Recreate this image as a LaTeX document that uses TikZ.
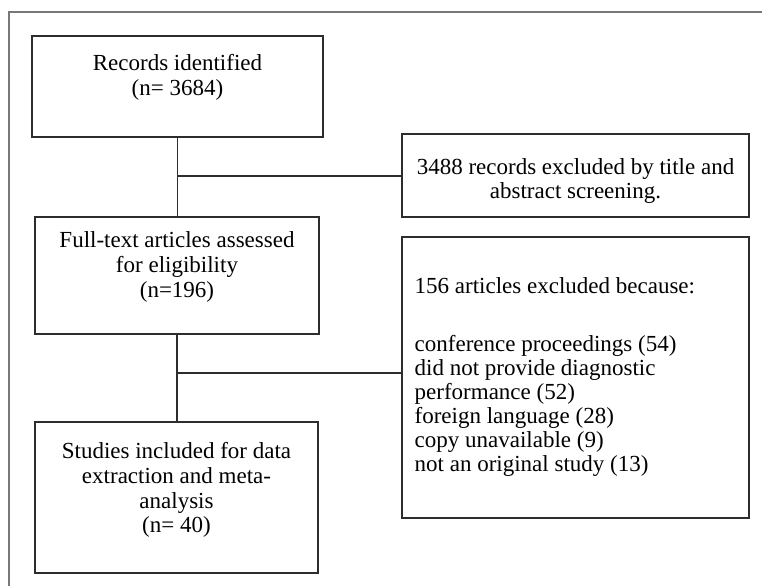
\documentclass[tikz,border=0pt]{standalone}
\usepackage{fontspec}
\setmainfont{Liberation Serif}
\usepackage{tikz}
\usetikzlibrary{positioning,calc}
\definecolor{boxline}{RGB}{45,45,45}
\definecolor{frameline}{RGB}{120,120,120}

\begin{document}
\begin{tikzpicture}[x=0.6pt,y=-0.6pt,
    box/.style={draw=boxline, line width=0.8pt, rectangle, inner sep=0pt},
    boxtext/.style={inner sep=0pt, align=center, font=\fontsize{13.8}{14.8}\selectfont},
    link/.style={draw=boxline, line width=0.8pt}]
  \useasboundingbox (0,0) rectangle (762,586);
  % frame
  \draw[frameline, line width=0.8pt] (9,586) -- (9,12) -- (762,12);

  % left column
  \node[box, minimum width=174.6pt, minimum height=60.6pt] (rec) at (177.5,86.5) {};
  \node[boxtext, below=11.4pt of rec.north] (rectxt) {Records identified\\(n= 3684)};

  \node[box, minimum width=170.4pt, minimum height=70.2pt] (full) at (177,275.5) {};
  \node[boxtext, below=9.2pt of full.north] (fulltxt) {Full-text articles assessed\\for eligibility\\(n=196)};

  \node[box, minimum width=169.8pt, minimum height=90.6pt] (incl) at (176.5,497.5) {};
  \node[boxtext, below=12.6pt of incl.north] (incltxt) {Studies included for data\\extraction and meta-\\analysis\\(n= 40)};

  % right column
  \node[box, minimum width=208.2pt, minimum height=49.8pt] (scr) at (575.5,175.5) {};
  \node[boxtext, below=14.8pt of scr.north] (scrtxt) {3488 records excluded by title and\\abstract screening.};

  \node[box, minimum width=208.2pt, minimum height=168.6pt] (elig) at (575.5,377.5) {};
  \node[boxtext, align=left, font=\fontsize{13.8}{14.4}\selectfont, anchor=north west,
        below right=24.8pt and 7.8pt of elig.north west] (eligtxt)
        {156 articles excluded because:\\[20.4pt]
         conference proceedings (54)\\
         did not provide diagnostic\\
         performance (52)\\
         foreign language (28)\\
         copy unavailable (9)\\
         not an original study (13)};

  % connectors
  \coordinate (j1) at (178,176);
  \coordinate (j2) at (178,373);
  \draw[link] (rec.south) -- (rec.south |- full.north);
  \draw[link] (j1) -- (j1 -| scr.west);
  \draw[link] (full.south) -- (full.south |- incl.north);
  \draw[link] (j2) -- (j2 -| elig.west);
\end{tikzpicture}
\end{document}
